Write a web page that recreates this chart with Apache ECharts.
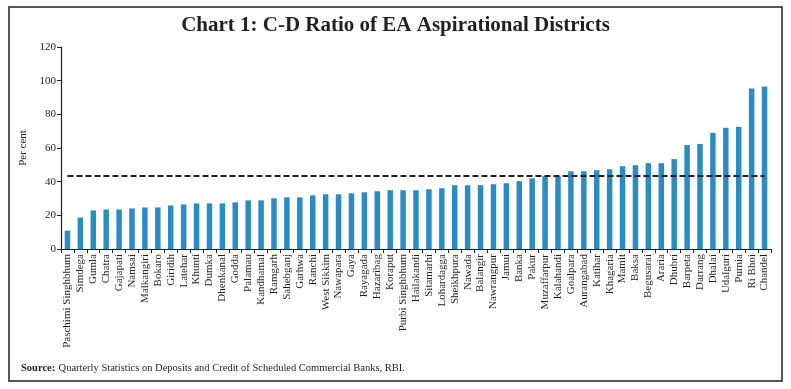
<!DOCTYPE html>
<html><head><meta charset="utf-8">
<script src="https://cdn.jsdelivr.net/npm/echarts@6/dist/echarts.min.js"></script>
<style>html,body{margin:0;padding:0;background:#fff}#c{width:791px;height:389px}</style>
</head><body><div id="c"></div>
<script>
const districts = ["Paschimi Singhbhum","Simdega","Gumla","Chatra","Gajapati","Namsai","Malkangiri","Bokaro","Giridih","Latehar","Khunti","Dumka","Dhenkanal","Godda","Palamau","Kandhamal","Ramgarh","Sahebganj","Garhwa","Ranchi","West Sikkim","Nawapara","Gaya","Rayagada","Hazaribag","Koraput","Purbi Singhbhum","Hailakandi","Sitamarhi","Lohardagga","Sheikhpura","Nawada","Balangir","Nawrangpur","Jamui","Banka","Pakur","Muzaffarpur","Kalahandi","Goalpara","Aurangabad","Katihar","Khagaria","Mamit","Baksa","Begusarai","Araria","Dhubri","Barpeta","Darrang","Dhalai","Udalguri","Purnia","Ri Bhoi","Chandel"];
const cdRatio = [10.9,18.7,22.9,23.5,23.5,24.1,24.7,24.7,25.9,26.5,27.1,27.1,27.1,27.7,28.9,28.9,30.1,30.7,30.7,31.9,32.5,32.5,33.1,33.7,34.3,34.9,34.9,34.9,35.5,36.1,37.9,37.9,37.9,38.5,39.1,40.3,42.0,43.2,43.2,46.2,46.2,46.8,47.4,49.2,49.8,51.0,51.0,53.4,61.8,62.4,69.0,72.0,72.6,95.4,96.6];
const averageRatio = 43.3;
const yTicks = [0,20,40,60,80,100,120];

const chart = echarts.init(document.getElementById('c'));
const serif = "'Liberation Serif', 'DejaVu Serif', serif";
chart.setOption({
  animation:false,
  backgroundColor:'#fff',
  title:{text:'Chart 1: C-D Ratio of EA Aspirational Districts',left:'center',top:10,
    textStyle:{fontFamily:serif,fontWeight:'bold',fontSize:21,color:'#231f20'}},
  graphic:[
    {type:'rect',shape:{x:9,y:7,width:773,height:374},style:{fill:'none',stroke:'#231f20',lineWidth:1.5},z:-1},
    {type:'text',left:21,top:362,style:{rich:{b:{fontFamily:serif,fontWeight:'bold',fontSize:10.5,fill:'#231f20'},n:{fontFamily:serif,fontSize:10.5,fill:'#231f20'}},
      text:'{b|Source:} {n|Quarterly Statistics on Deposits and Credit of Scheduled Commercial Banks, RBI.}'}}
  ],
  grid:{left:61,right:20,top:47,bottom:140},
  xAxis:{type:'category',data:districts,
    axisLine:{lineStyle:{color:'#231f20',width:1.2}},
    axisTick:{show:true,alignWithLabel:false,length:4,lineStyle:{color:'#231f20'}},
    axisLabel:{rotate:90,interval:0,fontFamily:serif,fontSize:11,color:'#231f20',margin:5}},
  yAxis:{type:'value',min:yTicks[0],max:yTicks[yTicks.length-1],interval:20,
    name:'Per cent',nameLocation:'middle',nameGap:30,nameRotate:90,
    nameTextStyle:{fontFamily:serif,fontSize:11,color:'#231f20'},
    axisLine:{show:true,lineStyle:{color:'#231f20',width:1.2}},
    axisTick:{show:true,length:4,lineStyle:{color:'#231f20'}},
    splitLine:{show:false},
    axisLabel:{fontFamily:serif,fontSize:11,color:'#231f20',margin:5}},
  series:[{type:'bar',data:cdRatio,barWidth:5.5,itemStyle:{color:'#2b8cc4'},
    markLine:{symbol:'none',silent:true,label:{show:false},
      lineStyle:{type:[6,3],color:'#231f20',width:2},
      data:[[{coord:[districts[0],averageRatio]},{coord:[districts[districts.length-1],averageRatio]}]]}}]
});
</script></body></html>
